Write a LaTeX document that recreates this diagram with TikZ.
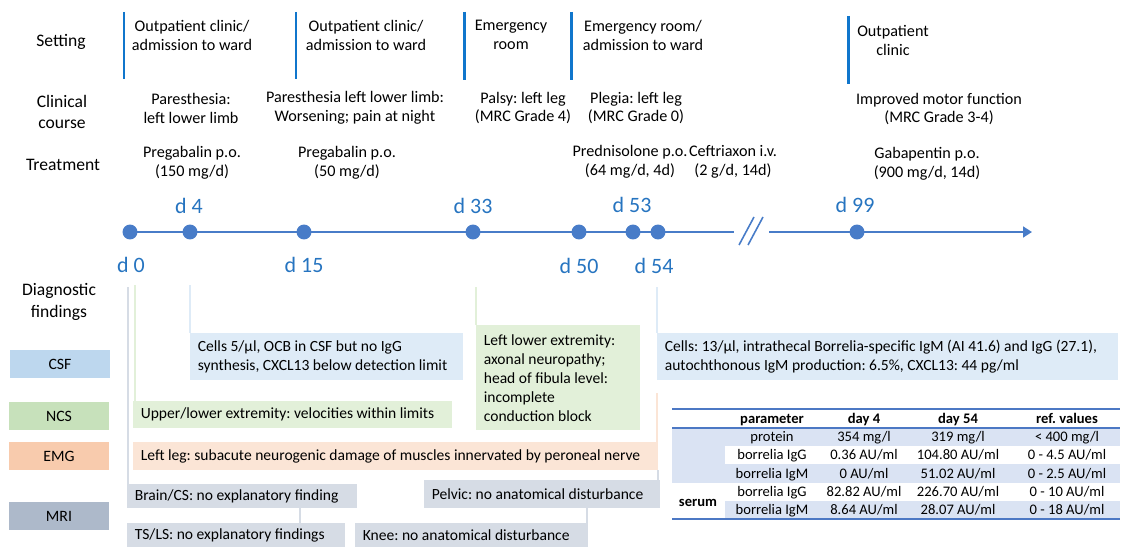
\documentclass[tikz,border=0pt]{standalone}
\usepackage{fontspec}
\setmainfont{Carlito}
\usetikzlibrary{arrows.meta}
\frenchspacing
\definecolor{barblue}{RGB}{16,118,204}
\definecolor{lineblue}{RGB}{72,124,200}
\definecolor{dayblue}{RGB}{38,116,192}
\definecolor{csfdark}{RGB}{189,215,238}
\definecolor{csflight}{RGB}{222,235,247}
\definecolor{ncsdark}{RGB}{199,225,187}
\definecolor{ncslight}{RGB}{226,240,217}
\definecolor{emgdark}{RGB}{248,203,173}
\definecolor{emglight}{RGB}{251,229,214}
\definecolor{mridark}{RGB}{173,185,202}
\definecolor{mrilight}{RGB}{214,220,229}
\definecolor{tabrule}{RGB}{76,120,196}
\definecolor{tabshade}{RGB}{218,227,243}
\tikzset{
  rowhead/.style={align=center, font=\fontsize{10}{12.4}\selectfont},
  entry/.style={align=center, font=\fontsize{9.2}{10.8}\selectfont},
  daydot/.style={circle, fill=lineblue, inner sep=0pt, minimum size=8.5pt},
  daylbl/.style={text=dayblue, font=\fontsize{12.5}{14}\selectfont},
  kindbox/.style={minimum width=2cm, minimum height=0.56cm, inner sep=0pt, font=\fontsize{9}{10.8}\selectfont},
  findbox/.style={anchor=north west, inner xsep=0.15cm, inner ysep=0pt, align=flush left,
    font=\fontsize{8.85}{10.8}\selectfont},
  setbar/.style={draw=barblue, line width=1.7pt},
  tl/.style={draw=lineblue, line width=1.7pt},
  cell/.style={font=\fontsize{8.3}{10}\selectfont, inner sep=0pt, text height=6pt, text depth=1.7pt},
}
\begin{document}
\begin{tikzpicture}[x=0.02cm, y=-0.02cm]
  \useasboundingbox (0,0) rectangle (1124,547);
  \node[rowhead] (hset) at (61,42) {Setting};
  \node[rowhead] (hcc) at (62,112) {Clinical\\course};
  \node[rowhead] (htr) at (63,165) {Treatment};
  \node[rowhead] (hdf) at (59,302) {Diagnostic\\findings};

  \draw[setbar] (124,12) -- (124,79);
  \draw[setbar] (296,12) -- (296,79);
  \draw[setbar] (464,12) -- (464,80);
  \draw[setbar] (571,12) -- (571,80);
  \draw[setbar] (848,16) -- (848,84);

  \node[entry] (set1) at (192,35) {Outpatient clinic/\\admission to ward};
  \node[entry] (set2) at (366,35) {Outpatient clinic/\\admission to ward};
  \node[entry] (set3) at (511,35) {Emergency\\room};
  \node[entry] (set4) at (643,35) {Emergency room/\\admission to ward};
  \node[entry] (set5) at (893,40) {Outpatient\\clinic};

  \node[entry] (cc1) at (191,108) {Paresthesia:\\left lower limb};
  \node[entry] (cc2) at (355,108) {Paresthesia left lower limb:\\Worsening; pain at night};
  \node[entry] (cc3) at (523,108) {Palsy: left leg\\(MRC Grade 4)};
  \node[entry] (cc4) at (636,108) {Plegia: left leg\\(MRC Grade 0)};
  \node[entry] (cc5) at (939,109) {Improved motor function\\(MRC Grade 3-4)};

  \node[entry] (tr1) at (192,163) {Pregabalin p.o.\\(150 mg/d)};
  \node[entry] (tr2) at (347,163) {Pregabalin p.o.\\(50 mg/d)};
  \node[entry] (tr3) at (630,162) {Prednisolone p.o.\\(64 mg/d, 4d)};
  \node[entry] (tr4) at (733,162) {Ceftriaxon i.v.\\(2 g/d, 14d)};
  \node[entry] (tr5) at (927,164) {Gabapentin p.o.\\(900 mg/d, 14d)};

  \coordinate (brkL) at (734,232);
  \coordinate (brkR) at (769,232);
  \coordinate (tlend) at (1032,232);
  \draw[tl] (130,232) -- (brkL);
  \draw[tl, -{Triangle[length=5pt, width=6pt]}] (brkR) -- (tlend);
  \draw[draw=lineblue, line width=0.9pt] (739,245) -- (754,217) (748,245) -- (763,217);
  \node[daydot] (d0) at (130,232) {};
  \node[daydot] (d4) at (190,232) {};
  \node[daydot] (d15) at (304,232) {};
  \node[daydot] (d33) at (473,232) {};
  \node[daydot] (d50) at (579,232) {};
  \node[daydot] (d53) at (633,232) {};
  \node[daydot] (d54) at (658,232) {};
  \node[daydot] (d99) at (857,232) {};
  \node[daylbl] (l0) at (131,265) {d 0};
  \node[daylbl] (l4) at (189,206) {d 4};
  \node[daylbl] (l15) at (304,265) {d 15};
  \node[daylbl] (l33) at (473,206) {d 33};
  \node[daylbl] (l50) at (579,266) {d 50};
  \node[daylbl] (l53) at (632,205) {d 53};
  \node[daylbl] (l54) at (654,266) {d 54};
  \node[daylbl] (l99) at (855,205) {d 99};

  \node[kindbox, fill=csfdark] (kcsf) at (60,364) {CSF};
  \node[kindbox, fill=ncsdark] (kncs) at (59,416) {NCS};
  \node[kindbox, fill=emgdark] (kemg) at (59,456) {EMG};
  \node[kindbox, fill=mridark] (kmri) at (59,516) {MRI};

  \node[findbox, fill=csflight, text width=5.16cm, minimum height=0.94cm] (csfA) at (190,333)
    {Cells 5/µl, OCB in CSF but no IgG\\synthesis, CXCL13 below detection limit};
  \node[findbox, fill=csflight, text width=8.92cm, minimum height=0.94cm] (csfB) at (657,333)
    {Cells: 13/µl, intrathecal Borrelia-specific IgM (AI 41.6) and IgG (27.1),\\autochthonous IgM production: 6.5\%, CXCL13: 44 pg/ml};
  \node[findbox, fill=ncslight, text width=6.08cm, minimum height=0.54cm] (ncsA) at (133,401)
    {Upper/lower extremity: velocities within limits};
  \node[findbox, fill=ncslight, text width=2.98cm, minimum height=2.10cm] (ncsB) at (476,325)
    {Left lower extremity:\\axonal neuropathy;\\head of fibula level:\\incomplete\\conduction block};
  \node[findbox, fill=emglight, text width=10.20cm, minimum height=0.56cm] (emg) at (133,442)
    {Left leg: subacute neurogenic damage of muscles innervated by peroneal nerve};
  \node[findbox, fill=mrilight, text width=4.30cm, minimum height=0.48cm] (mriA) at (127,484)
    {Brain/CS: no explanatory finding};
  \node[findbox, fill=mrilight, text width=4.06cm, minimum height=0.48cm] (mriB) at (127,523)
    {TS/LS: no explanatory findings};
  \node[findbox, fill=mrilight, text width=4.42cm, minimum height=0.56cm] (mriC) at (424,480)
    {Pelvic: no anatomical disturbance};
  \node[findbox, fill=mrilight, text width=4.36cm, minimum height=0.48cm] (mriD) at (355,523)
    {Knee: no anatomical disturbance};

  \coordinate (g0) at (128,287);
  \coordinate (n0) at (135,285);
  \coordinate (c4) at (190,285);
  \coordinate (n33) at (476,287);
  \coordinate (c54) at (657,287);
  \coordinate (e54) at (657,393);
  \coordinate (p54) at (658,470);
  \coordinate (t15) at (300,508);
  \coordinate (k50) at (587,508);
  \begin{scope}[line width=1.3pt]
    \draw[mrilight, line width=1.7pt] (g0) -- (g0 |- mriA.north);
    \draw[ncslight] (n0) -- (n0 |- ncsA.north);
    \draw[csflight] (c4) -- (c4 |- csfA.north);
    \draw[ncslight] (n33) -- (n33 |- ncsB.north);
    \draw[csflight] (c54) -- (c54 |- csfB.north);
    \draw[emglight] (e54) -- (e54 |- emg.north);
    \draw[mrilight] (p54) -- (p54 |- mriC.north);
    \draw[mrilight] (t15) -- (t15 |- mriB.north);
    \draw[mrilight] (k50) -- (k50 |- mriD.north);
  \end{scope}

  \fill[tabshade] (672,428) rectangle (725,482.6);
  \fill[tabshade] (672,428) rectangle (1120,446.2);
  \fill[tabshade] (725,464.4) rectangle (1120,482.6);
  \fill[tabshade] (725,500.8) rectangle (1120,519);
  \draw[tabrule, line width=1.1pt] (672,409) -- (1120,409) (672,428) -- (1120,428) (672,519) -- (1120,519);
  \node[cell] (hp) at (772,420) {\bfseries parameter};
  \node[cell] (ha) at (864,420) {\bfseries day 4};
  \node[cell] (hb) at (958,420) {\bfseries day 54};
  \node[cell] (hr) at (1067,420) {\bfseries ref. values};
  \node[cell] (p1) at (772,438) {protein};
  \node[cell] (a1) at (864,438) {354 mg/l};
  \node[cell] (b1) at (958,438) {319 mg/l};
  \node[cell] (r1) at (1067,438) {< 400 mg/l};
  \node[cell] (p2) at (772,456) {borrelia IgG};
  \node[cell] (a2) at (864,456) {0.36 AU/ml};
  \node[cell] (b2) at (958,456) {104.80 AU/ml};
  \node[cell] (r2) at (1067,456) {0 - 4.5 AU/ml};
  \node[cell] (p3) at (772,475) {borrelia IgM};
  \node[cell] (a3) at (864,475) {0 AU/ml};
  \node[cell] (b3) at (958,475) {51.02 AU/ml};
  \node[cell] (r3) at (1067,475) {0 - 2.5 AU/ml};
  \node[cell] (p4) at (772,493) {borrelia IgG};
  \node[cell] (a4) at (864,493) {82.82 AU/ml};
  \node[cell] (b4) at (958,493) {226.70 AU/ml};
  \node[cell] (r4) at (1067,493) {0 - 10 AU/ml};
  \node[cell] (p5) at (772,511) {borrelia IgM};
  \node[cell] (a5) at (864,511) {8.64 AU/ml};
  \node[cell] (b5) at (958,511) {28.07 AU/ml};
  \node[cell] (r5) at (1067,511) {0 - 18 AU/ml};
  \node[cell] (srm) at (698,503) {\bfseries serum};
\end{tikzpicture}
\end{document}
